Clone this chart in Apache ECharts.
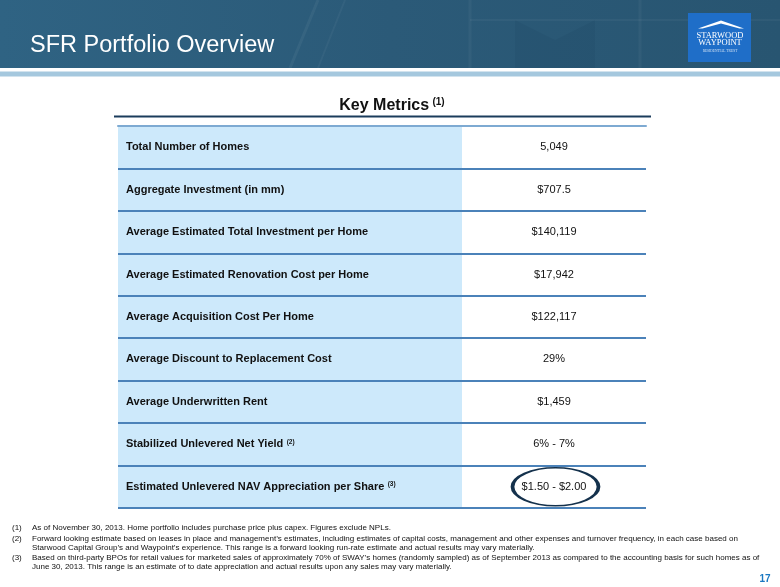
<!DOCTYPE html>
<html>
<head>
<meta charset="utf-8">
<title>SFR Portfolio Overview</title>
<script src="https://cdn.jsdelivr.net/npm/echarts@6/dist/echarts.min.js"></script>
<style>
html, body { margin: 0; padding: 0; background: #ffffff; }
#main { width: 780px; height: 587px; }
</style>
</head>
<body>
<div id="main"></div>
<script>
// table rows, top to bottom
var metrics = [
  'Total Number of Homes',
  'Aggregate Investment (in mm)',
  'Average Estimated Total Investment per Home',
  'Average Estimated Renovation Cost per Home',
  'Average Acquisition Cost Per Home',
  'Average Discount to Replacement Cost',
  'Average Underwritten Rent',
  'Stabilized Unlevered Net Yield',
  'Estimated Unlevered NAV Appreciation per Share'
];
var noteRefs = ['', '', '', '', '', '', '', '2', '3'];
var values = ['5,049', '$707.5', '$140,119', '$17,942', '$122,117', '29%', '$1,459', '6% - 7%', '$1.50 - $2.00'];
var circledRows = [8];

var footnoteMarks = ['(1)', '(2)', '', '(3)', ''];
var footnoteLines = [
  'As of November 30, 2013. Home portfolio includes purchase price plus capex. Figures exclude NPLs.',
  'Forward looking estimate based on leases in place and management\u2019s estimates, including estimates of capital costs, management and other expenses and turnover frequency, in each case based on',
  'Starwood Capital Group\u2019s and Waypoint\u2019s experience. This range is a forward looking run-rate estimate and actual results may vary materially.',
  'Based on third-party BPOs for retail values for marketed sales of approximately 70% of SWAY\u2019s homes (randomly sampled) as of September 2013 as compared to the accounting basis for such homes as of',
  'June 30, 2013. This range is an estimate of to date appreciation and actual results upon any sales may vary materially.'
];

var FONT = '"Liberation Sans", Arial, sans-serif';
var TABLE_LEFT = 118, TABLE_RIGHT = 646, SPLIT_X = 462;
var tableWidth = TABLE_RIGHT - TABLE_LEFT;
var labelColWidth = SPLIT_X - TABLE_LEFT;
var valueCenter = (SPLIT_X + TABLE_RIGHT) / 2 - TABLE_LEFT;

var myChart = echarts.init(document.getElementById('main'));

// header, logo, heading and footnotes
var graphics = [
  {
    type: 'rect', silent: true,
    shape: { x: 0, y: 0, width: 780, height: 68 },
    style: {
      fill: new echarts.graphic.LinearGradient(0, 0, 1, 0, [
        { offset: 0, color: '#2f6383' },
        { offset: 0.5, color: '#2b5a78' },
        { offset: 1, color: '#285571' }
      ])
    }
  },
  // faint building lines in the header photo
  { type: 'line', silent: true, shape: { x1: 290, y1: 68, x2: 318, y2: 0 }, style: { stroke: 'rgba(255,255,255,0.05)', lineWidth: 3 } },
  { type: 'line', silent: true, shape: { x1: 318, y1: 68, x2: 345, y2: 0 }, style: { stroke: 'rgba(255,255,255,0.04)', lineWidth: 2 } },
  { type: 'line', silent: true, shape: { x1: 470, y1: 20, x2: 780, y2: 20 }, style: { stroke: 'rgba(255,255,255,0.04)', lineWidth: 2 } },
  { type: 'line', silent: true, shape: { x1: 470, y1: 0, x2: 470, y2: 68 }, style: { stroke: 'rgba(255,255,255,0.04)', lineWidth: 3 } },
  { type: 'line', silent: true, shape: { x1: 640, y1: 0, x2: 640, y2: 68 }, style: { stroke: 'rgba(255,255,255,0.04)', lineWidth: 3 } },
  { type: 'polygon', silent: true, shape: { points: [[515, 20], [555, 40], [595, 20], [595, 68], [515, 68]] }, style: { fill: 'rgba(0,20,40,0.05)' } },
  {
    type: 'rect', silent: true,
    shape: { x: 0, y: 71.5, width: 780, height: 5 },
    style: { fill: '#a5c8de' }
  },
  {
    type: 'text', silent: true, x: 30, y: 46,
    style: {
      text: 'SFR Portfolio Overview', fill: '#ffffff',
      font: '23.5px ' + FONT, textAlign: 'left', textVerticalAlign: 'middle'
    }
  },
  // logo
  {
    type: 'rect', silent: true,
    shape: { x: 688, y: 13, width: 63, height: 49 },
    style: { fill: '#1f6ec8' }
  },
  {
    type: 'polygon', silent: true,
    shape: { points: [[698, 28.5], [721, 20.5], [744, 28.5], [739.5, 28.5], [721, 23.5], [702.5, 28.5]] },
    style: { fill: '#ffffff' }
  },
  {
    type: 'text', silent: true, x: 720, y: 35.5,
    style: { text: 'STARWOOD', fill: '#ffffff', font: '8.5px "Liberation Serif", serif', textAlign: 'center', textVerticalAlign: 'middle' }
  },
  {
    type: 'text', silent: true, x: 720, y: 43,
    style: { text: 'WAYPOINT', fill: '#ffffff', font: '8.5px "Liberation Serif", serif', textAlign: 'center', textVerticalAlign: 'middle' }
  },
  {
    type: 'text', silent: true, x: 720, y: 51,
    style: { text: 'RESIDENTIAL TRUST', fill: 'rgba(255,255,255,0.8)', font: '3.5px "Liberation Serif", serif', textAlign: 'center', textVerticalAlign: 'middle' }
  },
  // table heading
  {
    type: 'text', silent: true, x: 392, y: 106,
    style: {
      text: '{t|Key Metrics} {s|(1)}',
      textAlign: 'center', textVerticalAlign: 'middle',
      rich: {
        t: { fontSize: 16, fontWeight: 'bold', fontFamily: FONT, fill: '#111111' },
        s: { fontSize: 10, fontWeight: 'bold', fontFamily: FONT, fill: '#111111', padding: [0, 0, 7, 0] }
      }
    }
  },
  {
    type: 'line', silent: true,
    shape: { x1: 114, y1: 116.5, x2: 651, y2: 116.5 },
    style: { stroke: '#1b3c5c', lineWidth: 2 }
  },
  {
    type: 'text', silent: true, x: 765, y: 579,
    style: { text: '17', fill: '#1a78c2', font: 'bold 10px ' + FONT, textAlign: 'center', textVerticalAlign: 'middle' }
  }
];

var footY = [528, 539, 548, 558, 567];
footnoteLines.forEach(function (line, i) {
  if (footnoteMarks[i]) {
    graphics.push({
      type: 'text', silent: true, x: 12, y: footY[i],
      style: { text: footnoteMarks[i], fill: '#111111', font: '8px ' + FONT, textVerticalAlign: 'middle' }
    });
  }
  graphics.push({
    type: 'text', silent: true, x: 32, y: footY[i],
    style: { text: line, fill: '#111111', font: '8px ' + FONT, textVerticalAlign: 'middle' }
  });
});

myChart.setOption({
  animation: false,
  backgroundColor: '#ffffff',
  graphic: { elements: graphics },
  grid: { left: TABLE_LEFT, right: 780 - TABLE_RIGHT, top: 126, bottom: 79 },
  xAxis: {
    type: 'value', min: 0, max: tableWidth, position: 'top', z: 6,
    axisLine: { show: true, lineStyle: { color: '#7eaad2', width: 2 } },
    axisTick: { show: false }, axisLabel: { show: false }, splitLine: { show: false }
  },
  yAxis: {
    type: 'category', inverse: true, data: metrics, z: 5,
    axisLine: { show: false }, axisTick: { show: false }, axisLabel: { show: false },
    splitLine: { show: true, interval: 0, lineStyle: { color: '#4b82b9', width: 2 } }
  },
  series: [
    {
      // light blue label column
      type: 'bar', silent: true, barWidth: '100%', z: 1,
      data: metrics.map(function () { return labelColWidth; }),
      itemStyle: { color: '#cde9fb' },
      label: {
        show: true, position: 'insideLeft', distance: 8,
        formatter: function (p) {
          var n = noteRefs[p.dataIndex];
          return '{b|' + p.name + '}' + (n ? ' {sup|(' + n + ')}' : '');
        },
        rich: {
          b: { fontSize: 11, fontWeight: 'bold', fontFamily: FONT, color: '#111111' },
          sup: { fontSize: 6.5, fontWeight: 'bold', fontFamily: FONT, color: '#111111', padding: [0, 0, 5, 0] }
        }
      }
    },
    {
      type: 'scatter', silent: true, z: 4,
      data: values.map(function (v, i) { return [valueCenter, i]; }),
      symbolSize: 1, itemStyle: { color: 'rgba(0,0,0,0)', opacity: 1 },
      label: {
        show: true, position: 'inside', fontSize: 11, fontFamily: FONT, color: '#111111',
        formatter: function (p) { return values[p.dataIndex]; }
      }
    },
    {
      // circle round the NAV appreciation value
      type: 'scatter', silent: true, z: 4,
      data: circledRows.map(function (i) { return [valueCenter + 1.5, i]; }),
      symbol: 'circle', symbolSize: [86, 38],
      itemStyle: { color: 'rgba(0,0,0,0)', opacity: 1, borderColor: '#14314c', borderWidth: 2.5 }
    }
  ]
});
</script>
</body>
</html>
